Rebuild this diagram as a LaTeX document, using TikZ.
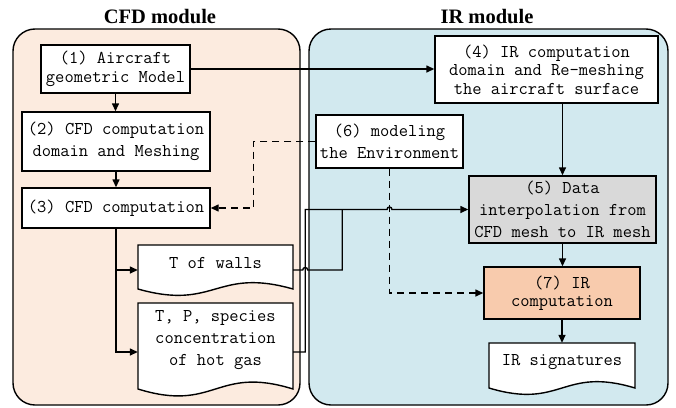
\documentclass[tikz,border=0pt]{standalone}
\usepackage{fontspec}
\newfontfamily\headfont{Liberation Serif}
\usetikzlibrary{arrows.meta,calc}
\definecolor{cfdbg}{HTML}{FCEBDF}
\definecolor{irbg}{HTML}{D2E9EF}
\definecolor{databg}{HTML}{D9D9D9}
\definecolor{ircomp}{HTML}{F8CBAD}
\begin{document}
\begin{tikzpicture}[x=1pt,y=-1pt,
  every node/.style={font=\fontsize{18}{22}\selectfont\ttfamily},
  box/.style={draw, line width=1.4pt, fill=white, inner sep=0pt, align=center},
  doctext/.style={inner sep=0pt, align=center},
  title/.style={font=\headfont\bfseries\fontsize{20.5}{24}\selectfont},
  arr/.style={line width=1.4pt, -{Triangle[length=8pt,width=7pt]}},
  dasharr/.style={arr, dash pattern=on 7pt off 5pt},
  wire/.style={line width=1.4pt},
  panel/.style={draw, line width=1.4pt, rounded corners=22pt},
  doc/.style={draw, line width=1.4pt, fill=white}]
\useasboundingbox (0,0) rectangle (676,407);

% module panels
\path[panel, fill=cfdbg] (13,29) rectangle (300,405);
\path[panel, fill=irbg] (309,29) rectangle (668,405);
\node[title] (tcfd) at (160,17) {CFD module};
\node[title] (tir) at (487,17) {IR module};

% document outlines with wavy bottoms
\draw[doc] (138,289) -- (138,245) -- (293,245) -- (293,289)
  .. controls (215.5,267) and (215.5,311) .. (138,289) -- cycle;
\draw[doc] (138,389) -- (138,303) -- (293,303) -- (293,389)
  .. controls (215.5,365) and (215.5,413) .. (138,389) -- cycle;
\draw[doc] (489,388) -- (489,343) -- (635,343) -- (635,388)
  .. controls (562,366) and (562,410) .. (489,388) -- cycle;

\node[doctext, minimum width=155pt, minimum height=36pt] (walls) at (215.5,263) {T of walls};
\node[doctext, minimum width=155pt, minimum height=74pt] (gas) at (215.5,340) {T, P, species\\concentration\\of hot gas};
\node[doctext, minimum width=146pt, minimum height=38pt] (sig) at (562,362) {IR signatures};

% process boxes
\node[box, minimum width=149pt, minimum height=48pt, font=\fontsize{18}{18.5}\selectfont\ttfamily] (b1) at (115.5,69) {(1) Aircraft\\geometric Model};
\node[box, minimum width=188pt, minimum height=59pt] (b2) at (116,141.5) {(2) CFD computation\\domain and Meshing};
\node[box, minimum width=188pt, minimum height=40pt] (b3) at (116,208) {(3) CFD computation};
\node[box, minimum width=223pt, minimum height=67pt, font=\fontsize{18}{18.5}\selectfont\ttfamily] (b4) at (546.5,69.5) {(4) IR computation\\domain and Re-meshing\\the aircraft surface};
\node[box, minimum width=147pt, minimum height=53pt] (b6) at (389.5,141.5) {(6) modeling\\the Environment};
\node[box, fill=databg, minimum width=187pt, minimum height=67pt] (b5) at (562.5,209.5) {(5) Data\\interpolation from\\CFD mesh to IR mesh};
\node[box, fill=ircomp, minimum width=156pt, minimum height=52pt, font=\fontsize{18}{18.5}\selectfont\ttfamily] (b7) at (562,293) {(7) IR\\computation};

% main flow
\draw[arr] (b1.south) -- (b1.south |- b2.north);
\draw[arr] (b2.south) -- (b2.south |- b3.north);
\draw[arr] (b1.east) -- (b1.east -| b4.west);
\draw[arr] (b5.north |- b4.south) -- (b5.north);
\draw[arr] (b5.south) -- (b5.south |- b7.north);
\draw[arr] (b7.south) -- (b7.south |- sig.north);

% CFD results
\coordinate (wallsIn) at ([yshift=-7pt]walls.west);
\coordinate (gasIn) at ([yshift=-12pt]gas.west);
\draw[arr] (b3.south) |- (gasIn);
\draw[arr] (b3.south |- wallsIn) -- (wallsIn);

% results fed to the interpolation step
\coordinate (wallsOut) at ([yshift=-7pt]walls.east);
\coordinate (gasOut) at ([yshift=-12pt]gas.east);
\coordinate (riser) at ($(gasOut)+(12,0)$);
\coordinate (merge) at ($(wallsOut)+(49,0)$);
\draw[arr] (gasOut) -- (riser) -- (riser |- b5.west)
  -- ([xshift=-2.5pt]b6.south |- b5.west) arc[start angle=180, end angle=360, radius=2.5]
  -- (b5.west);
\draw[wire] (wallsOut) -- ([xshift=-2.5pt]riser |- wallsOut)
  arc[start angle=180, end angle=360, radius=2.5]
  -- (merge) -- (merge |- b5.west);

% environment links
\draw[dasharr] (b6.west) -- ++(-62,0) |- (b3.east);
\draw[dasharr] (b6.south) |- (b7.west);
\end{tikzpicture}
\end{document}
